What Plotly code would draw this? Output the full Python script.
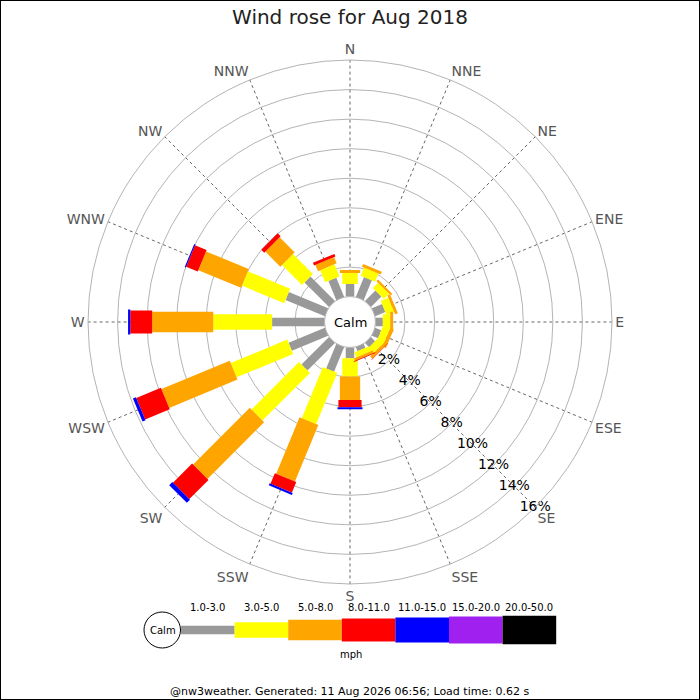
import plotly.graph_objects as go

# wind directions (compass points, clockwise from north)
directions = ["N", "NNE", "NE", "ENE", "E", "ESE", "SE", "SSE",
              "S", "SSW", "SW", "WSW", "W", "WNW", "NW", "NNW"]

# speed bands (mph) and their colours
speed_bins = ["1.0-3.0", "3.0-5.0", "5.0-8.0", "8.0-11.0",
              "11.0-15.0", "15.0-20.0", "20.0-50.0"]
bin_colors = ["#999999", "#ffff00", "#ffa500", "#ff0000",
              "#0000ff", "#a020f0", "#000000"]

# % of time from each direction, per speed band
pct_1_3 = [0.85, 1.45, 1.0, 0.75, 0.5, 0.45, 0.4, 0.3,
           0.73, 1.8, 2.64, 2.66, 3.55, 2.88, 2.35, 1.4]
pct_3_5 = [0.75, 0.6, 0.5, 0.55, 0.5, 0.5, 0.5, 0.35,
           1.24, 3.74, 4.54, 4.14, 3.98, 3.1, 1.91, 0.89]
pct_5_8 = [0.2, 0.2, 0.15, 0.2, 0.2, 0.25, 0.2, 0.18,
           1.58, 4.13, 5.42, 5.0, 4.13, 3.12, 1.44, 0.46]
pct_8_11 = [0, 0, 0, 0, 0, 0, 0.03, 0.05,
            0.49, 0.77, 1.83, 1.8, 1.48, 0.85, 0.28, 0.19]
pct_11_15 = [0, 0, 0, 0, 0, 0, 0, 0,
             0.14, 0.15, 0.3, 0.22, 0.15, 0.08, 0, 0]
pct_15_20 = [0] * 16
pct_20_50 = [0] * 16

radial_ticks = [2, 4, 6, 8, 10, 12, 14, 16]

title_text = "Wind rose for Aug 2018"
footer_text = "@nw3weather. Generated: 11 Aug 2026 06:56; Load time: 0.62 s"

# bar thickness (px) for each band, in the rose and the key
bar_px = [8.5, 15.5, 20.3, 23.2, 25, 27, 28.6]

FONT = "DejaVu Sans"
W = H = 700


def px_x(p):
    return p / W


def px_y(p):
    return 1 - p / H


def add_text(fig, x, y, text, size, color="black"):
    # paper annotation centred on a pixel position
    fig.add_annotation(x=px_x(x), y=px_y(y), xref="paper", yref="paper",
                       xanchor="center", yanchor="middle",
                       text=text, showarrow=False,
                       font=dict(family=FONT, size=size, color=color))


fig = go.Figure()

all_bands = [pct_1_3, pct_3_5, pct_5_8, pct_8_11, pct_11_15, pct_15_20, pct_20_50]
base = [0.0] * len(directions)
for name, color, width, vals in zip(speed_bins, bin_colors, bar_px, all_bands):
    r, th = [], []
    for i, d in enumerate(directions):
        if vals[i] > 0:
            r += [base[i], base[i] + vals[i], None]
            th += [d, d, None]
        base[i] += vals[i]
    if r:
        fig.add_trace(go.Scatterpolar(r=r, theta=th, mode="lines", name=name,
                                      line=dict(color=color, width=width),
                                      showlegend=False, hoverinfo="skip"))

# percentage labels along the SE spoke
fig.add_trace(go.Scatterpolar(r=radial_ticks, theta=["SE"] * len(radial_ticks),
                              mode="text", text=[f"{v}%" for v in radial_ticks],
                              textfont=dict(family=FONT, size=14, color="black"),
                              cliponaxis=False, showlegend=False, hoverinfo="skip"))

fig.update_layout(
    width=W, height=H,
    margin=dict(l=0, r=0, t=0, b=0),
    paper_bgcolor="white",
    font=dict(family=FONT),
    title=dict(text=title_text, x=0.5, xanchor="center", y=px_y(17), yanchor="middle",
               font=dict(family=FONT, size=20, color="#222")),
    polar=dict(
        domain=dict(x=[px_x(88), px_x(612)], y=[px_y(584), px_y(60)]),
        hole=0.097,
        bgcolor="white",
        radialaxis=dict(range=[0, 16], tickvals=radial_ticks, showticklabels=False,
                        ticks="", showline=False, gridcolor="#b4b4b4", gridwidth=1),
        angularaxis=dict(type="category", categoryarray=directions, rotation=90,
                         direction="clockwise", ticks="", showline=True,
                         linecolor="#b4b4b4", linewidth=1,
                         gridcolor="#666", griddash="dot", gridwidth=1,
                         tickfont=dict(family=FONT, size=14, color="#555")),
    ),
)

# calm label in the middle of the rose
add_text(fig, 350, 322, "Calm", 13)

# speed key below the rose
key_x0, seg_w, key_cy = 181, 53.6, 630
fig.add_shape(type="circle", xref="paper", yref="paper",
              x0=px_x(144), x1=px_x(180.5), y0=px_y(648), y1=px_y(612),
              line=dict(color="black", width=1), fillcolor="white")
add_text(fig, 162.5, 630, "Calm", 10)
for i, (name, color, h) in enumerate(zip(speed_bins, bin_colors, bar_px)):
    x0 = key_x0 + i * seg_w
    fig.add_shape(type="rect", xref="paper", yref="paper",
                  x0=px_x(x0), x1=px_x(x0 + seg_w),
                  y0=px_y(key_cy + h / 2), y1=px_y(key_cy - h / 2),
                  line=dict(width=0), fillcolor=color)
    add_text(fig, x0 + seg_w / 2, 607, name, 10)
add_text(fig, 351, 654, "mph", 10)

add_text(fig, 349, 691, footer_text, 11)

# frame round the picture
fig.add_shape(type="rect", xref="paper", yref="paper", x0=0, x1=1, y0=0, y1=1,
              line=dict(color="black", width=2))

fig.write_html("out.html", config={"displayModeBar": False},
               post_script="document.body.style.margin='0';")
